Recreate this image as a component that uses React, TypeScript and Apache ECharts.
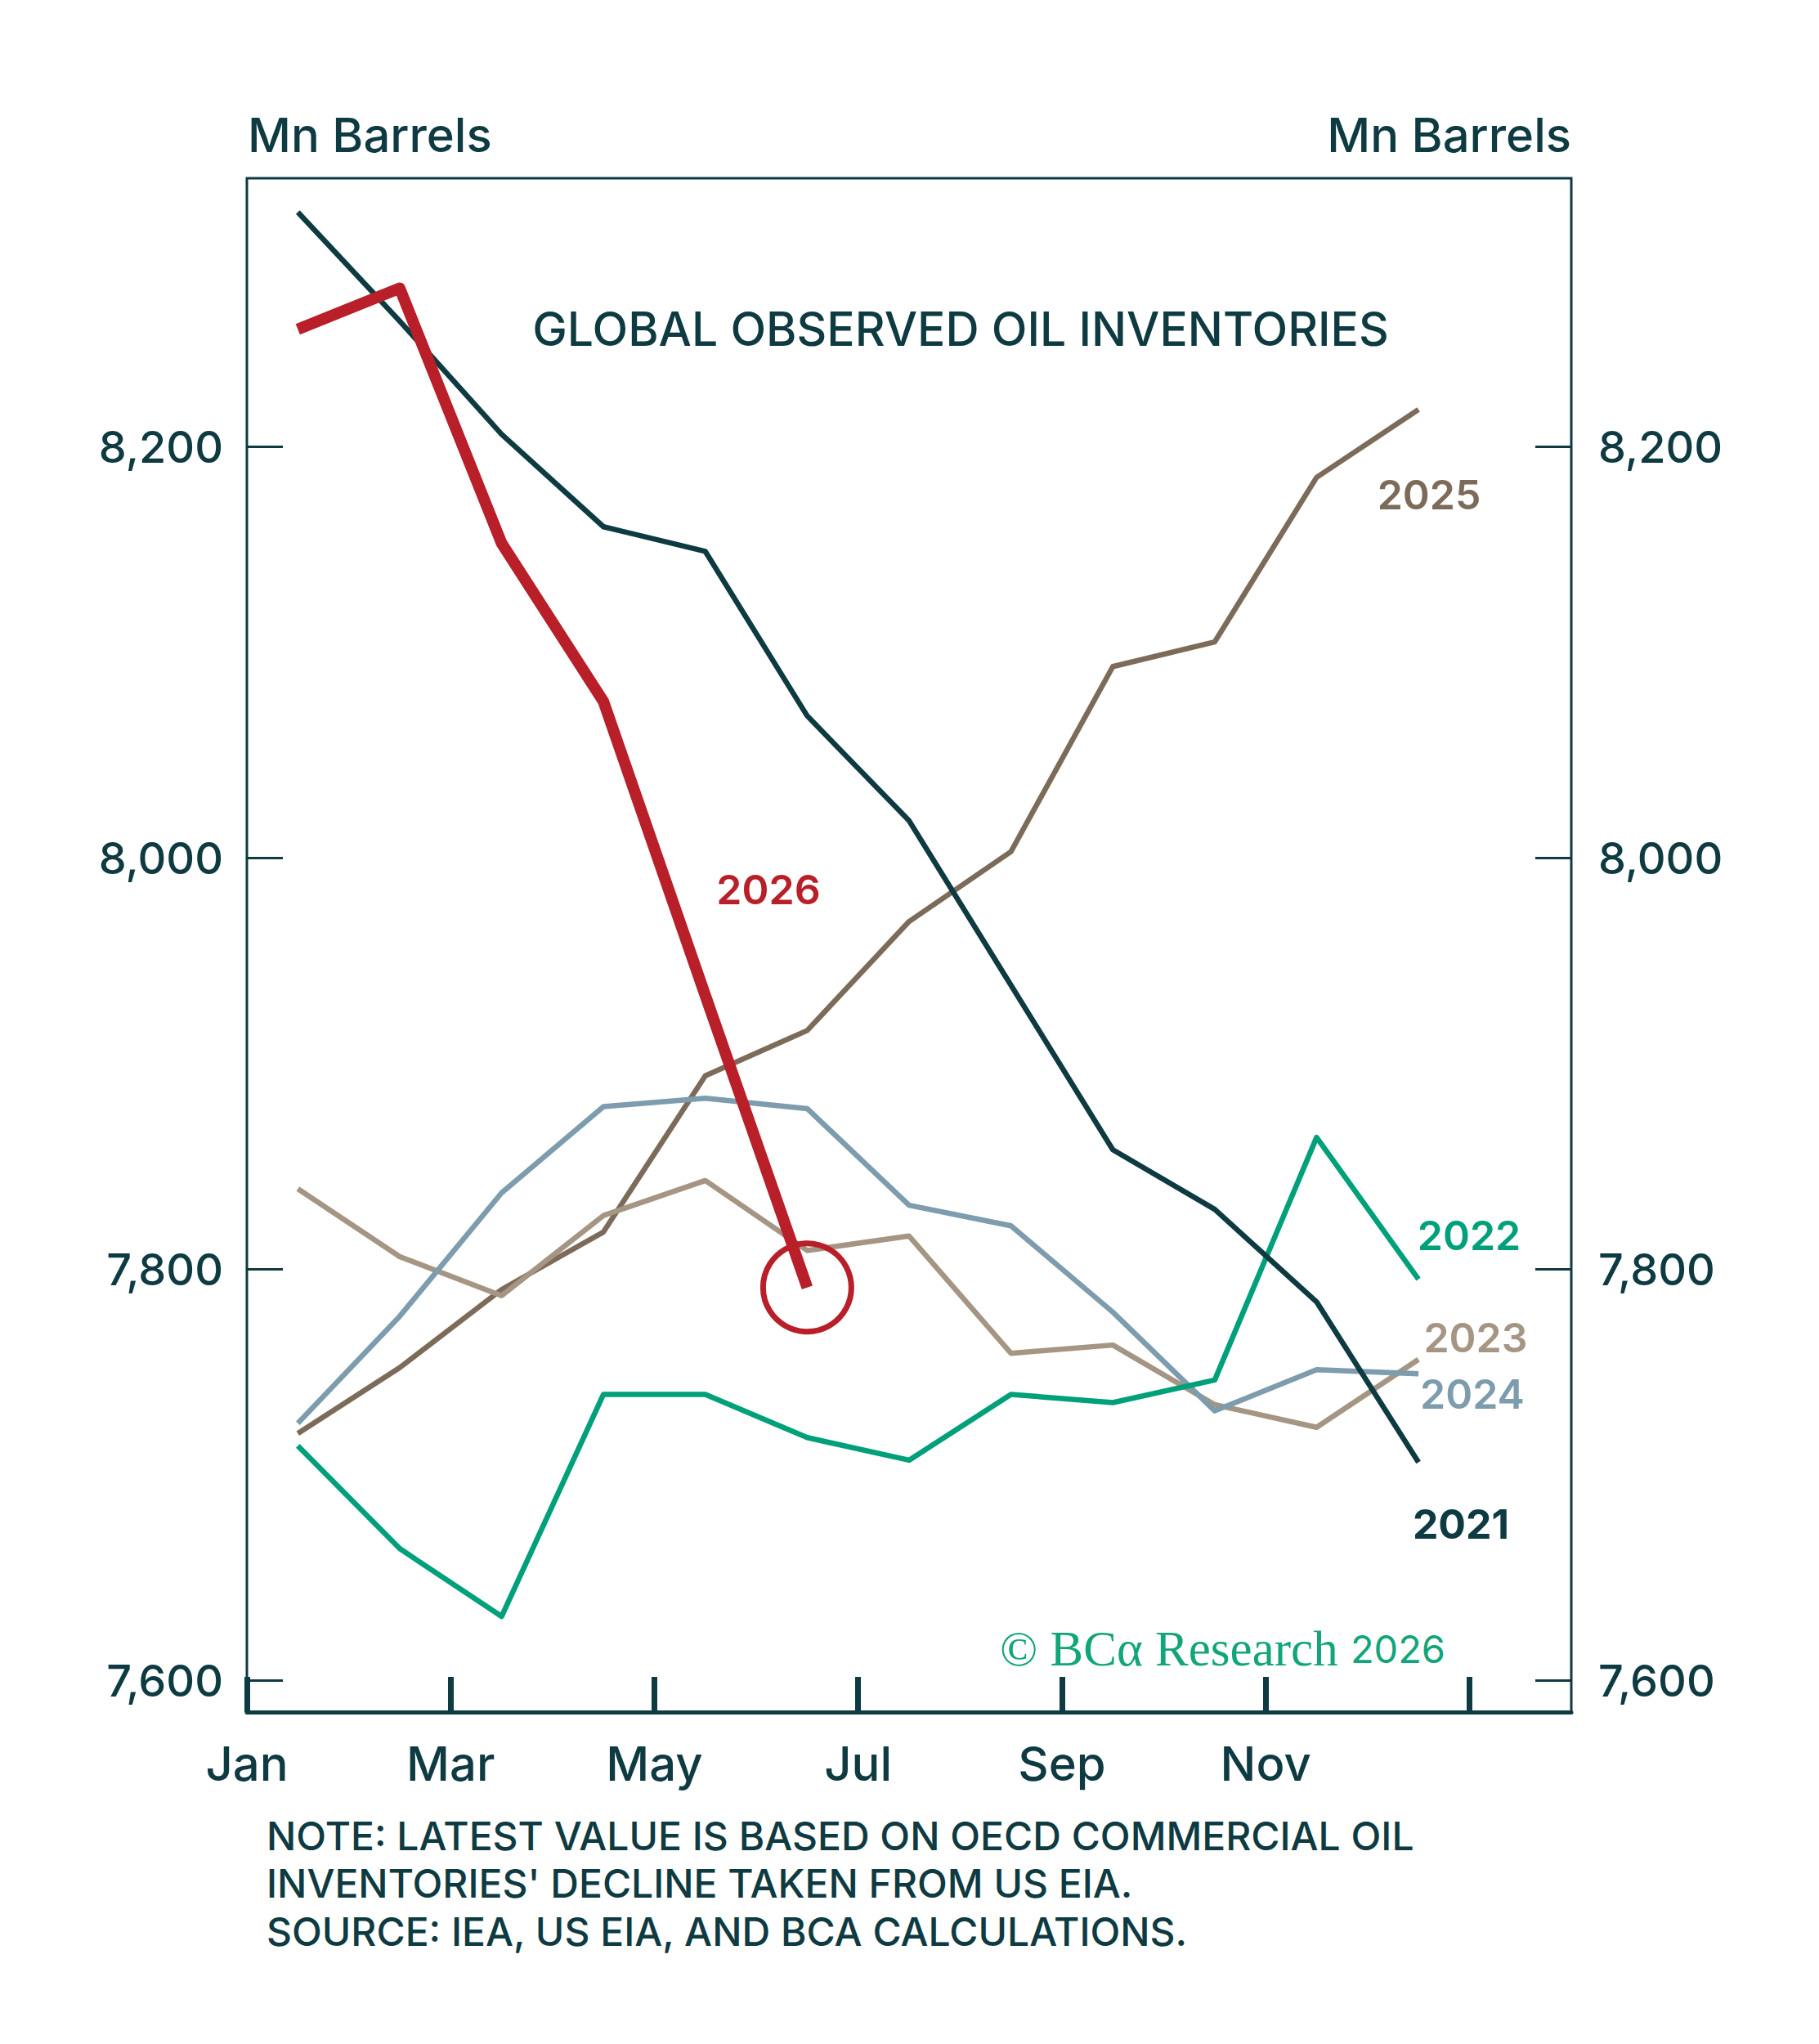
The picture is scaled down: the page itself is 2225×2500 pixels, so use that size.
import React, { useEffect, useRef } from "react";
import * as echarts from "echarts";

// month index of the x ticks (0 = Jan) and labels for them
const monthTicks = [0, 2, 4, 6, 8, 10, 12];
const monthLabels = ["Jan", "Mar", "May", "Jul", "Sep", "Nov"];
const yTicks = [7600, 7800, 8000, 8200];

// Mn barrels, monthly (Jan..Dec)
const inv2021 = [8314, 8261, 8206, 8161, 8149, 8069, 8018, 7938, 7858, 7829, 7784, 7706];
const inv2022 = [7714, 7664, 7631, 7739, 7739, 7718, 7707, 7739, 7735, 7746, 7864, 7795];
const inv2023 = [7839, 7806, 7787, 7826, 7843, 7809, 7816, 7759, 7763, 7734, 7723, 7756];
const inv2024 = [7725, 7777, 7837, 7879, 7883, 7878, 7831, 7821, 7779, 7731, 7751, 7749];
const inv2025 = [7720, 7752, 7790, 7818, 7894, 7916, 7969, 8003, 8093, 8105, 8185, 8218];
const inv2026 = [8257, 8277, 8153, 8076, 7933, 7791];

const DARK = "#0e3a41";
const RED = "#b81f29";
const FONT = "Inter";

const toPoints = (vals: number[]) => vals.map((v, i) => [i + 0.5, v]);

const App = () => {
  const chartRef = useRef<HTMLDivElement>(null);

  useEffect(() => {
    if (!chartRef.current) return;
    const chart = echarts.init(chartRef.current, null, { renderer: "svg" });

    const yAxisBase = {
      type: "value",
      min: 7584.5,
      max: 8330.5,
      splitLine: { show: false },
      axisLine: { show: false },
      axisTick: {
        show: true,
        inside: true,
        length: 44,
        customValues: yTicks,
        lineStyle: { color: DARK, width: 3 },
      },
      axisLabel: {
        customValues: yTicks,
        formatter: (v: number) => v.toLocaleString("en-US"),
        color: DARK,
        fontFamily: FONT,
        fontWeight: 500,
        fontSize: 54,
      },
    };

    const lineSeries = (name: string, vals: number[], color: string, width: number, z = 2) => ({
      name,
      type: "line",
      data: toPoints(vals),
      symbol: "none",
      z,
      lineStyle: { color, width, cap: "butt", join: "round" },
    });

    const labelText = (text: string, x: number, y: number, fill: string, weight = 600) => ({
      type: "text",
      x,
      y,
      style: {
        text,
        fill,
        font: `${weight} 50px ${FONT}`,
        align: "center",
        verticalAlign: "middle",
      },
    });

    const options = {
      animation: false,
      backgroundColor: "#ffffff",
      grid: {
        left: 302,
        right: 303,
        top: 218,
        bottom: 406,
        show: true,
        borderColor: DARK,
        borderWidth: 3,
      },
      xAxis: {
        type: "value",
        min: 0,
        max: 13,
        splitLine: { show: false },
        axisLine: { show: true, onZero: false, lineStyle: { color: DARK, width: 5 } },
        axisTick: {
          show: true,
          inside: true,
          length: 43,
          customValues: monthTicks,
          lineStyle: { color: DARK, width: 7 },
        },
        axisLabel: {
          customValues: monthTicks.slice(0, monthLabels.length),
          formatter: (v: number) => monthLabels[Math.round(v / 2)] ?? "",
          color: DARK,
          fontFamily: FONT,
          fontWeight: 500,
          fontSize: 58,
          margin: 34,
        },
      },
      yAxis: [
        { ...yAxisBase, position: "left", axisLabel: { ...yAxisBase.axisLabel, margin: 29 } },
        { ...yAxisBase, position: "right", axisLabel: { ...yAxisBase.axisLabel, margin: 33 } },
      ],
      series: [
        lineSeries("2025", inv2025, "#7d6b5a", 6.5),
        lineSeries("2023", inv2023, "#a59583", 6.5),
        lineSeries("2024", inv2024, "#7d9cad", 6.5),
        lineSeries("2022", inv2022, "#00a07a", 6.5),
        lineSeries("2021", inv2021, DARK, 6.5),
        lineSeries("2026", inv2026, RED, 14, 5),
        {
          name: "latest",
          type: "scatter",
          data: [[inv2026.length - 0.5, inv2026[inv2026.length - 1]]],
          symbol: "circle",
          symbolSize: 108,
          z: 6,
          itemStyle: { color: "rgba(0,0,0,0)", borderColor: RED, borderWidth: 7, opacity: 1 },
        },
      ],
      graphic: [
        {
          type: "text",
          x: 303,
          y: 165,
          style: { text: "Mn Barrels", fill: DARK, font: `500 58px ${FONT}`, align: "left", verticalAlign: "middle" },
        },
        {
          type: "text",
          x: 1922,
          y: 165,
          style: { text: "Mn Barrels", fill: DARK, font: `500 58px ${FONT}`, align: "right", verticalAlign: "middle" },
        },
        {
          type: "text",
          x: 1175,
          y: 402,
          style: {
            text: "GLOBAL OBSERVED OIL INVENTORIES",
            fill: DARK,
            font: `500 57px ${FONT}`,
            align: "center",
            verticalAlign: "middle",
          },
        },
        labelText("2026", 940, 1088, RED),
        labelText("2025", 1748, 605, "#7d6b5a"),
        labelText("2022", 1797, 1511, "#00a07a"),
        labelText("2023", 1805, 1636, "#a59583"),
        labelText("2024", 1801, 1705, "#7d9cad"),
        labelText("2021", 1787, 1864, DARK, 700),
        {
          type: "text",
          x: 1768,
          y: 2016,
          style: {
            text: "{a|© BCα Research\u00a0}{b|2026}",
            align: "right",
            verticalAlign: "middle",
            rich: {
              a: { fill: "#12a57a", font: `61px "Liberation Serif"` },
              b: { fill: "#12a57a", font: `47px ${FONT}` },
            },
          },
        },
        {
          type: "text",
          x: 326,
          y: 2216,
          style: {
            text:
              "NOTE: LATEST VALUE IS BASED ON OECD COMMERCIAL OIL\nINVENTORIES' DECLINE TAKEN FROM US EIA.\nSOURCE: IEA, US EIA, AND BCA CALCULATIONS.",
            fill: DARK,
            font: `500 48px ${FONT}`,
            lineHeight: 58.5,
            align: "left",
            verticalAlign: "top",
          },
        },
      ],
    };

    chart.setOption(options as any);

    const handleResize = () => chart.resize();
    window.addEventListener("resize", handleResize);
    return () => {
      window.removeEventListener("resize", handleResize);
      chart.dispose();
    };
  }, []);

  return (
    <div style={{ position: "absolute", left: 0, top: 0, width: 2225, height: 2500, background: "#fff" }}>
      <div ref={chartRef} style={{ width: "2225px", height: "2500px" }} />
    </div>
  );
};

export default App;
